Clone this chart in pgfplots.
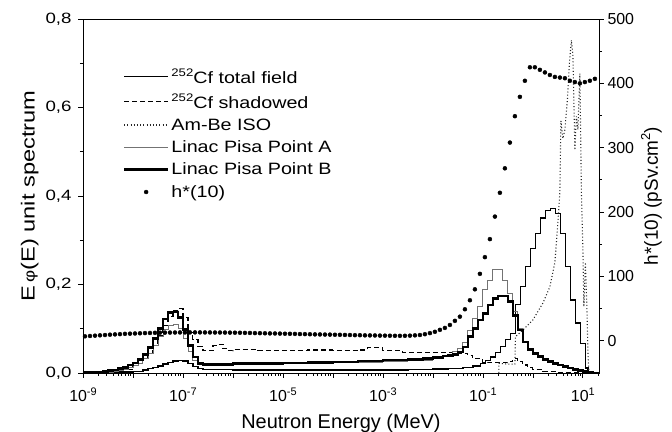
\documentclass[border=0pt]{standalone}
\usepackage{graphicx}
\usepackage{pgfplots}
\pgfplotsset{compat=1.18}
\usepackage{fontspec}
\setmainfont{Liberation Sans}
\newfontfamily\wide[FakeStretch=1.25]{Liberation Sans}
\usetikzlibrary{calc}
\newcommand\sups[2]{\raisebox{0.42em}{\fontsize{#1}{#1}\selectfont #2}}
\newcommand\leg[1]{\scalebox{1.2}[1]{\fontsize{16.5}{18}\selectfont #1}}
\newcommand\tn[1]{10\sups{11}{#1}}

\begin{document}
\begin{tikzpicture}
\begin{axis}[
    name=main,
    scale only axis,
    width=516bp, height=354bp,
    xmode=log, xmin=1e-9, xmax=21,
    ymin=0, ymax=0.8,
    xtickten={-9,-8,...,1},
    xticklabels={\tn{-9},,\tn{-7},,\tn{-5},,\tn{-3},,\tn{-1},,\tn{1}},
    minor xtick={2e-9,3e-9,4e-9,5e-9,6e-9,7e-9,8e-9,9e-9,
                 2e-8,3e-8,4e-8,5e-8,6e-8,7e-8,8e-8,9e-8,
                 2e-7,3e-7,4e-7,5e-7,6e-7,7e-7,8e-7,9e-7,
                 2e-6,3e-6,4e-6,5e-6,6e-6,7e-6,8e-6,9e-6,
                 2e-5,3e-5,4e-5,5e-5,6e-5,7e-5,8e-5,9e-5,
                 2e-4,3e-4,4e-4,5e-4,6e-4,7e-4,8e-4,9e-4,
                 2e-3,3e-3,4e-3,5e-3,6e-3,7e-3,8e-3,9e-3,
                 0.02,0.03,0.04,0.05,0.06,0.07,0.08,0.09,
                 0.2,0.3,0.4,0.5,0.6,0.7,0.8,0.9,
                 2,3,4,5,6,7,8,9,20},
    ytick={0,0.2,0.4,0.6,0.8},
    minor ytick={0.1,0.3,0.5,0.7},
    yticklabel style={font=\wide\fontsize{15}{15}\selectfont, xshift=-3bp,
        /pgf/number format/.cd, fixed, fixed zerofill, precision=1, use comma},
    xticklabel style={font=\fontsize{16}{16}\selectfont, yshift=-6bp},
    /pgf/number format/assume math mode=true,
    tick align=outside,
    xtick pos=left, ytick pos=left,
    major tick length=5bp, minor tick length=3bp,
    tick style={black, line width=0.8bp},
    axis line style={line width=0.8bp},
    xlabel={Neutron Energy (MeV)},
    xlabel style={font=\fontsize{20}{20}\selectfont, yshift=-5bp},
    ylabel={E\,{\fontsize{15}{15}\selectfont φ}(E) unit spectrum},
    ylabel style={font=\wide\fontsize{19}{19}\selectfont},
    legend cell align=left,
    legend style={draw=none, fill=none, at={(0.071,0.872)}, anchor=north west, row sep=5bp},
    legend image code/.code={\draw[mark repeat=2,mark phase=2,#1] plot coordinates {(0bp,0bp) (22bp,0bp) (44bp,0bp)};},
]
% 252Cf total field
\addplot[const plot mark left, black, line width=1.3bp] coordinates {
(1e-9,0) (2.51e-9,0.001) (5.01e-9,0.002) (1e-8,0.004) (1.58e-8,0.007) (2e-8,0.010)
(2.51e-8,0.013) (3.16e-8,0.016) (3.98e-8,0.020) (5.01e-8,0.023) (6.31e-8,0.027)
(7.94e-8,0.029) (1e-7,0.027) (1.26e-7,0.021) (1.58e-7,0.014) (2e-7,0.010)
(2.51e-7,0.008) (1e-6,0.007) (1e-3,0.007) (3.16e-3,0.008) (1e-2,0.009) (2e-2,0.010)
(3.98e-2,0.012) (6.31e-2,0.016) (8.91e-2,0.021) (0.112,0.028) (0.141,0.036)
(0.178,0.047) (0.224,0.060) (0.282,0.075) (0.355,0.090) (0.447,0.154) (0.562,0.195)
(0.708,0.240) (0.891,0.282) (1.122,0.316) (1.413,0.350) (1.778,0.368) (2.239,0.372)
(2.818,0.361) (3.548,0.316) (4.467,0.240) (5.623,0.165) (7.079,0.113) (8.913,0.067)
(11.22,0.011) (12.59,0) (21,0)
};
\addlegendentry{\leg{\sups{11}{252}Cf total field}}
% 252Cf shadowed
\addplot[const plot mark left, black, line width=1.1bp, dash pattern=on 5bp off 3bp] coordinates {
(1e-9,0.001) (2.51e-9,0.002) (3.98e-9,0.004) (6.31e-9,0.008) (1e-8,0.016) (1.26e-8,0.022)
(1.58e-8,0.032) (2e-8,0.045) (2.51e-8,0.062) (3.16e-8,0.085) (3.98e-8,0.108)
(5.01e-8,0.128) (6.31e-8,0.140) (7.94e-8,0.145) (1e-7,0.125) (1.26e-7,0.092)
(1.58e-7,0.075) (2e-7,0.060) (2.51e-7,0.050) (3.16e-7,0.050) (3.98e-7,0.062)
(5.01e-7,0.065) (6.31e-7,0.055) (7.94e-7,0.050) (1e-6,0.053) (3.16e-6,0.051)
(1e-5,0.051) (3.16e-5,0.052) (1e-4,0.051) (3.16e-4,0.052) (5.01e-4,0.057) (1e-3,0.050)
(2.51e-3,0.046) (1e-2,0.046) (2.51e-2,0.045) (5.01e-2,0.040) (6.31e-2,0.032)
(0.1,0.024) (0.126,0.023) (0.316,0.026) (0.398,0.032) (0.501,0.025) (0.631,0.018)
(0.794,0.012) (1,0.008) (1.58,0.004) (3.16,0.002) (10,0) (21,0)
};
\addlegendentry{\leg{\sups{11}{252}Cf shadowed}}
% Am-Be ISO
\addplot[sharp plot, black!85, line width=1.1bp, dash pattern=on 1bp off 2.2bp] coordinates {
(0.209,0) (0.209,0.022) (0.316,0.020) (0.437,0.020) (0.447,0.082) (0.631,0.097)
(1,0.120) (1.585,0.158) (2.188,0.195) (2.754,0.250) (3.162,0.340) (3.467,0.410)
(3.631,0.570) (3.981,0.530) (4.365,0.550) (4.898,0.617) (5.370,0.700) (5.888,0.752)
(6.310,0.720) (6.918,0.504) (7.413,0.580) (7.943,0.550) (8.710,0.677) (9.333,0.410)
(10,0.280) (10.47,0.150) (11.22,0.250) (12.02,0.150) (12.59,0.050) (13.18,0)
};
\addlegendentry{\leg{Am-Be ISO}}
% Linac Pisa Point A
\addplot[const plot mark left, black!55, line width=0.9bp] coordinates {
(1e-9,0.001) (2.51e-9,0.002) (3.98e-9,0.004) (5.01e-9,0.006) (6.31e-9,0.008)
(7.94e-9,0.012) (1e-8,0.016) (1.26e-8,0.022) (1.58e-8,0.032) (2e-8,0.045)
(2.51e-8,0.062) (3.16e-8,0.082) (3.98e-8,0.098) (5.01e-8,0.108) (6.31e-8,0.110)
(7.94e-8,0.100) (1e-7,0.078) (1.26e-7,0.048) (1.58e-7,0.028) (2e-7,0.020)
(2.51e-7,0.018) (1e-6,0.019) (1e-5,0.021) (1e-4,0.023) (1e-3,0.027) (3.16e-3,0.029)
(1e-2,0.034) (1.58e-2,0.038) (2e-2,0.042) (2.51e-2,0.048) (3.16e-2,0.056)
(3.98e-2,0.068) (5.01e-2,0.097) (6.31e-2,0.124) (7.94e-2,0.150) (0.1,0.188)
(0.126,0.210) (0.158,0.233) (0.2,0.233) (0.251,0.210) (0.316,0.180) (0.398,0.140)
(0.501,0.100) (0.631,0.072) (0.794,0.055) (1,0.045) (1.26,0.038) (1.58,0.032)
(2,0.027) (2.51,0.023) (3.16,0.019) (3.98,0.015) (5.01,0.012) (6.31,0.008)
(7.94,0.005) (10,0.003) (12.6,0.001) (15.8,0) (21,0)
};
\addlegendentry{\leg{Linac Pisa Point A}}
% Linac Pisa Point B
\addplot[const plot mark left, black, line width=2.6bp] coordinates {
(1e-9,0.001) (1.58e-9,0.002) (2.51e-9,0.003) (3.16e-9,0.005) (3.98e-9,0.007)
(5.01e-9,0.010) (6.31e-9,0.013) (7.94e-9,0.018) (1e-8,0.023) (1.26e-8,0.030)
(1.58e-8,0.042) (2e-8,0.058) (2.51e-8,0.078) (3.16e-8,0.100) (3.98e-8,0.122)
(5.01e-8,0.137) (6.31e-8,0.138) (7.94e-8,0.125) (1e-7,0.098) (1.26e-7,0.062)
(1.58e-7,0.036) (2e-7,0.022) (2.51e-7,0.019) (1e-6,0.021) (3.16e-6,0.022)
(1e-5,0.023) (3.16e-5,0.024) (1e-4,0.025) (3.16e-4,0.027) (1e-3,0.029)
(3.16e-3,0.031) (6.31e-3,0.033) (1e-2,0.035) (1.58e-2,0.038) (2e-2,0.040)
(2.51e-2,0.042) (3.16e-2,0.047) (3.98e-2,0.059) (5.01e-2,0.082) (6.31e-2,0.100)
(7.94e-2,0.120) (0.1,0.135) (0.126,0.154) (0.158,0.169) (0.2,0.174) (0.251,0.174)
(0.316,0.162) (0.398,0.130) (0.501,0.097) (0.631,0.070) (0.794,0.053) (1,0.044)
(1.26,0.037) (1.58,0.031) (2,0.026) (2.51,0.022) (3.16,0.018) (3.98,0.015)
(5.01,0.011) (6.31,0.008) (7.94,0.005) (10,0.003) (12.6,0.001) (15.8,0) (21,0)
};
\addlegendentry{\leg{Linac Pisa Point B}}
\addlegendimage{only marks, mark=*, mark size=2bp, black}
\addlegendentry{\leg{h*(10)}}
\end{axis}

\begin{axis}[
    scale only axis,
    width=516bp, height=354bp,
    xmode=log, xmin=1e-9, xmax=21,
    ymin=-50, ymax=500,
    axis x line=none,
    axis y line*=right,
    ytick={0,100,200,300,400,500},
    minor ytick={50,150,250,350,450},
    /pgf/number format/assume math mode=true,
    tick align=outside,
    major tick length=5bp, minor tick length=3bp,
    tick style={black, line width=0.8bp},
    axis line style={line width=0.8bp},
    yticklabel style={font=\fontsize{16}{16}\selectfont},
    ylabel={h*(10) (pSv.cm\sups{13}{2})},
    ylabel style={font=\fontsize{19}{19}\selectfont},
]
% h*(10) fluence-to-dose conversion coefficients
\addplot[only marks, mark=*, mark size=2bp, black] coordinates {
(1.096e-9,7.0) (1.380e-9,7.5) (1.738e-9,8.0) (2.188e-9,8.5) (2.754e-9,9.0)
(3.467e-9,9.5) (4.365e-9,10.0) (5.495e-9,10.4) (6.918e-9,10.8) (8.710e-9,11.1)
(1.096e-8,11.4) (1.380e-8,11.7) (1.738e-8,12.0) (2.188e-8,12.2) (2.754e-8,12.4)
(3.467e-8,12.6) (4.365e-8,12.7) (5.495e-8,12.8) (6.918e-8,12.9) (8.710e-8,13.0)
(1.096e-7,13.0) (1.380e-7,13.1) (1.738e-7,13.1) (2.188e-7,13.1) (2.754e-7,13.0)
(3.467e-7,13.0) (4.365e-7,12.9) (5.495e-7,12.9) (6.918e-7,12.8) (8.710e-7,12.7)
(1.096e-6,12.6) (1.380e-6,12.5) (1.738e-6,12.3) (2.188e-6,12.2) (2.754e-6,12.0)
(3.467e-6,11.9) (4.365e-6,11.7) (5.495e-6,11.5) (6.918e-6,11.4) (8.710e-6,11.2)
(1.096e-5,11.0) (1.380e-5,10.9) (1.738e-5,10.7) (2.188e-5,10.5) (2.754e-5,10.4)
(3.467e-5,10.2) (4.365e-5,10.0) (5.495e-5,9.9) (6.918e-5,9.7) (8.710e-5,9.6)
(1.096e-4,9.4) (1.380e-4,9.3) (1.738e-4,9.1) (2.188e-4,9.0) (2.754e-4,8.8)
(3.467e-4,8.7) (4.365e-4,8.5) (5.495e-4,8.4) (6.918e-4,8.3) (8.710e-4,8.1)
(1.096e-3,8.0) (1.380e-3,7.9) (1.738e-3,7.8) (2.188e-3,7.7) (2.754e-3,7.8)
(3.467e-3,8.0) (4.365e-3,8.5) (5.495e-3,9.0) (6.918e-3,10.3) (8.710e-3,12.0)
(1.096e-2,14) (1.380e-2,17) (1.738e-2,20) (2.188e-2,24.6) (2.754e-2,31)
(3.467e-2,37.5) (4.365e-2,49) (5.495e-2,63) (6.918e-2,80) (8.710e-2,104)
(0.1096,130) (0.1380,158) (0.1738,193) (0.2188,230) (0.2754,268)
(0.3467,308) (0.4365,349) (0.5495,379) (0.6918,404) (0.8710,425)
(1.096,425) (1.380,421) (1.738,417) (2.188,413) (2.754,410)
(3.467,409) (4.365,408) (5.495,404) (6.918,402) (8.710,400)
(10.96,402) (13.80,404) (17.38,407)
};
\end{axis}
\pgfresetboundingbox
\path ($(main.south west)+(-83bp,-59bp)$) rectangle ($(main.north east)+(73bp,19bp)$);
\end{tikzpicture}
\end{document}
